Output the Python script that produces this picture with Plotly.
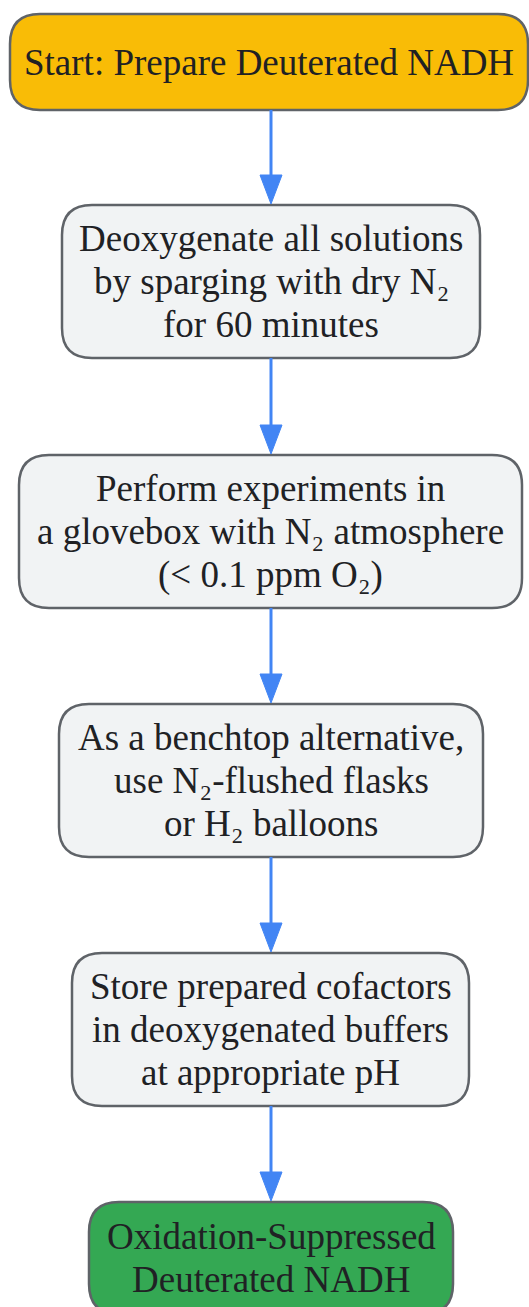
import plotly.graph_objects as go

# ---- content ----
step_texts = [
    ["Start: Prepare Deuterated NADH"],
    ["Deoxygenate all solutions", "by sparging with dry N₂", "for 60 minutes"],
    ["Perform experiments in", "a glovebox with N₂ atmosphere", "(< 0.1 ppm O₂)"],
    ["As a benchtop alternative,", "use N₂-flushed flasks", "or H₂ balloons"],
    ["Store prepared cofactors", "in deoxygenated buffers", "at appropriate pH"],
    ["Oxidation-Suppressed", "Deuterated NADH"],
]
step_fills = ["#F9BC06", "#F1F3F4", "#F1F3F4", "#F1F3F4", "#F1F3F4", "#34A853"]

# ---- layout geometry (pixels) ----
W, H = 529, 1307
box_left = [10, 62, 19, 59, 72, 89]
box_right = [528, 480, 522, 483, 469, 453]
box_top = [14, 205, 455, 704, 953, 1202]
box_bottom = [110, 358, 608, 857, 1106, 1314]
radius = 30
line_gap = 43
font_size = 37
border_color = "#5F6368"
arrow_color = "#4285F4"
text_color = "#202124"
arrow_x = 271
head_h, head_w = 30, 22


def rounded_rect(x0, y0, x1, y1, r):
    return (f"M {x0+r},{y0} L {x1-r},{y0} Q {x1},{y0} {x1},{y0+r} "
            f"L {x1},{y1-r} Q {x1},{y1} {x1-r},{y1} L {x0+r},{y1} "
            f"Q {x0},{y1} {x0},{y1-r} L {x0},{y0+r} Q {x0},{y0} {x0+r},{y0} Z")


fig = go.Figure()
shapes = []
annotations = []

for i, lines in enumerate(step_texts):
    x0, x1, y0, y1 = box_left[i], box_right[i], box_top[i], box_bottom[i]
    shapes.append(dict(type="path", path=rounded_rect(x0, y0, x1, y1, radius),
                       fillcolor=step_fills[i], line=dict(color=border_color, width=2.5),
                       xref="x", yref="y", layer="above"))
    cx = (x0 + x1) / 2
    cy = (y0 + y1) / 2
    n = len(lines)
    for j, t in enumerate(lines):
        annotations.append(dict(x=cx, y=cy + (j - (n - 1) / 2) * line_gap, text=t,
                                showarrow=False, xanchor="center", yanchor="middle",
                                font=dict(family="Liberation Serif, Times New Roman, serif",
                                          size=font_size, color=text_color)))

for i in range(len(step_texts) - 1):
    ys = box_bottom[i]
    ye = box_top[i + 1]
    shapes.append(dict(type="line", x0=arrow_x, x1=arrow_x, y0=ys, y1=ye - head_h + 2,
                       line=dict(color=arrow_color, width=3), xref="x", yref="y"))
    shapes.append(dict(type="path",
                       path=f"M {arrow_x-head_w/2},{ye-head_h} L {arrow_x+head_w/2},{ye-head_h} L {arrow_x},{ye-1} Z",
                       fillcolor=arrow_color, line=dict(color=arrow_color, width=1),
                       xref="x", yref="y"))

fig.update_layout(
    width=W, height=H,
    margin=dict(l=0, r=0, t=0, b=0),
    paper_bgcolor="white", plot_bgcolor="white",
    xaxis=dict(range=[0, W], visible=False, fixedrange=True),
    yaxis=dict(range=[H, 0], visible=False, fixedrange=True),
    shapes=shapes, annotations=annotations, showlegend=False,
)

fig.write_html("out.html", config={"displayModeBar": False, "staticPlot": True},
               post_script="document.body.style.margin='0px';document.body.style.overflow='hidden';")
